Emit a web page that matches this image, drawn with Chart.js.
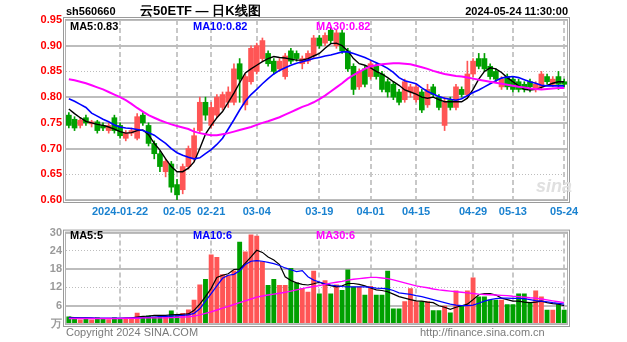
<!DOCTYPE html>
<html>
<head>
<meta charset="utf-8">
<script src="https://cdn.jsdelivr.net/npm/chart.js@4.4.1/dist/chart.umd.min.js"></script>
<style>
  body { margin:0; background:#fff; width:627px; height:342px; overflow:hidden; position:relative;
         font-family:"Liberation Sans", Arial, sans-serif; }
  canvas { position:absolute; left:0; }
  .t { position:absolute; font-weight:bold; font-size:11px; line-height:12px; white-space:nowrap; }
  .s { position:absolute; font-size:11px; line-height:12px; white-space:nowrap; color:#7a7a7a; }
</style>
</head>
<body>
<canvas id="kline" width="627" height="222" style="top:0"></canvas>
<canvas id="vol" width="627" height="120" style="top:222px"></canvas>

<div class="t" style="left:66px;top:5px;color:#000">sh560660</div>
<div class="t" style="left:140px;top:4px;color:#000;font-size:13px;line-height:14px">云50ETF — 日K线图</div>
<div class="t" style="right:59px;top:5px;color:#000">2024-05-24 11:30:00</div>

<div class="t" style="left:70px;top:20px;color:#000">MA5:0.83</div>
<div class="t" style="left:193px;top:20px;color:#0000ff">MA10:0.82</div>
<div class="t" style="left:316px;top:20px;color:#ff00ff">MA30:0.82</div>

<div class="t" style="left:70px;top:229px;color:#000">MA5:5</div>
<div class="t" style="left:193px;top:229px;color:#0000ff">MA10:6</div>
<div class="t" style="left:316px;top:229px;color:#ff00ff">MA30:6</div>

<div class="t" style="left:536px;top:176px;color:#e0e0e0;font-size:18px;line-height:20px;font-style:italic">sina</div>

<div class="s" style="left:66px;top:326px">Copyright 2024 SINA.COM</div>
<div class="s" style="left:420px;top:326px">http://finance.sina.com.cn</div>

<script>
// trading days shown on the daily chart
const dates = [
  '01-09','01-10','01-11','01-12','01-15','01-16','01-17','01-18','01-19','01-22',
  '01-23','01-24','01-25','01-26','01-29','01-30','01-31',
  '02-01','02-02','02-05','02-06','02-07','02-08','02-19','02-20','02-21','02-22',
  '02-23','02-26','02-27','02-28','02-29',
  '03-01','03-04','03-05','03-06','03-07','03-08','03-11','03-12','03-13','03-14',
  '03-15','03-18','03-19','03-20','03-21','03-22','03-25','03-26','03-27','03-28','03-29',
  '04-01','04-02','04-03','04-08','04-09','04-10','04-11','04-12','04-15','04-16',
  '04-17','04-18','04-19','04-22','04-23','04-24','04-25','04-26','04-29','04-30',
  '05-06','05-07','05-08','05-09','05-10','05-13','05-14','05-15','05-16','05-17',
  '05-20','05-21','05-22','05-23','05-24'
];

// dates that carry an axis label, and the label drawn for each
const tickDates  = ['01-22','02-05','02-21','03-04','03-19','04-01','04-15','04-29','05-13','05-24'];
const tickLabels = ['2024-01-22','02-05','02-21','03-04','03-19','04-01','04-15','04-29','05-13','05-24'];

const open = [
  .765,.757,.745,.760,.748,.752,.745,.735,.760,.745,.720,.730,.720,.765,.745,.710,.690,
  .655,.670,.630,.620,.665,.680,.735,.790,.745,.765,.780,.790,.790,.865,.785,
  .830,.850,.875,.885,.870,.855,.840,.890,.885,.865,.870,.880,.915,.905,.930,.900,.925,.890,.860,.820,.855,
  .840,.860,.845,.830,.825,.810,.795,.810,.795,.810,.785,.820,.800,.745,.795,.780,.815,.805,.845,.875,
  .875,.860,.850,.820,.840,.835,.830,.825,.830,.815,.820,.840,.825,.840,.830
];
const high = [
  .770,.762,.760,.765,.755,.755,.750,.750,.765,.750,.735,.740,.768,.770,.750,.715,.695,
  .680,.675,.640,.670,.705,.740,.800,.800,.790,.805,.810,.820,.865,.875,.845,
  .900,.905,.915,.890,.875,.875,.885,.895,.890,.880,.890,.920,.920,.925,.935,.930,.930,.895,.865,.855,.860,
  .870,.865,.850,.835,.830,.815,.835,.825,.825,.815,.825,.825,.805,.800,.800,.825,.820,.870,.875,.885,
  .885,.865,.855,.840,.845,.840,.835,.830,.835,.830,.850,.845,.840,.850,.835
];
const low = [
  .740,.735,.740,.745,.742,.730,.735,.730,.730,.720,.715,.725,.717,.745,.705,.680,.655,
  .645,.615,.600,.612,.660,.675,.730,.755,.740,.760,.775,.780,.785,.790,.775,
  .825,.845,.870,.860,.845,.850,.835,.865,.870,.855,.865,.875,.895,.900,.905,.895,.885,.850,.805,.815,.820,
  .835,.835,.810,.800,.795,.785,.790,.800,.790,.770,.780,.800,.775,.735,.775,.775,.800,.800,.840,.855,
  .850,.835,.830,.815,.815,.810,.810,.810,.810,.810,.815,.825,.820,.815,.820
];
const close = [
  .745,.740,.755,.750,.752,.735,.740,.745,.735,.725,.730,.735,.762,.750,.710,.690,.665,
  .675,.625,.610,.665,.700,.725,.790,.765,.780,.800,.805,.810,.855,.835,.840,
  .895,.900,.910,.865,.850,.870,.880,.870,.875,.875,.885,.915,.900,.920,.910,.925,.890,.855,.815,.850,.825,
  .865,.840,.815,.810,.800,.790,.830,.820,.820,.775,.815,.805,.780,.790,.780,.820,.805,.845,.870,.860,
  .855,.840,.835,.835,.820,.815,.815,.815,.820,.825,.845,.830,.835,.825,.825
];

// moving averages of the close
const ma5 = [
  .777,.768,.760,.753,.750,.747,.745,.742,.738,.733,.730,.731,.735,.736,.727,.710,.697,
  .680,.665,.655,.655,.662,.674,.700,.728,.745,.760,.772,.790,.808,.828,.847,
  .855,.862,.869,.875,.879,.877,.876,.874,.872,.872,.875,.880,.885,.895,.904,.905,.900,.890,.875,.865,.862,
  .857,.850,.845,.838,.830,.823,.814,.810,.806,.800,.798,.800,.795,.791,.791,.791,.791,.798,.815,.835,
  .850,.857,.855,.848,.838,.830,.822,.815,.814,.815,.819,.823,.827,.830,.830
];
const ma10 = [
  .797,.792,.786,.780,.769,.763,.757,.752,.746,.742,.740,.739,.737,.735,.731,.726,.718,
  .710,.700,.692,.687,.683,.680,.682,.690,.698,.708,.720,.738,.756,.775,.792,
  .805,.815,.826,.836,.845,.852,.857,.862,.866,.869,.872,.875,.877,.880,.882,.885,.888,.888,.885,.881,.877,
  .872,.867,.862,.856,.848,.838,.832,.829,.826,.818,.811,.806,.801,.798,.796,.794,.797,.803,.809,.814,
  .820,.826,.832,.837,.839,.840,.838,.834,.830,.827,.823,.822,.822,.822,.822
];
const ma30 = [
  .835,.833,.830,.827,.823,.819,.815,.810,.805,.800,.794,.787,.779,.772,.765,.760,.755,
  .751,.747,.744,.741,.738,.733,.730,.728,.726,.726,.728,.730,.733,.736,.739,
  .742,.746,.750,.753,.757,.761,.766,.771,.776,.781,.785,.790,.796,.803,.811,.819,.827,.836,.843,.849,.855,
  .860,.862,.864,.865,.866,.866,.865,.864,.861,.858,.855,.851,.848,.845,.843,.841,.840,.838,.836,.834,
  .832,.830,.828,.826,.824,.822,.820,.819,.817,.816,.815,.816,.817,.818,.818
];

// traded volume and its moving averages
const volume = [
  2.5,2.0,1.5,2.0,1.5,2.2,1.8,1.6,2.2,1.8,2.0,1.9,3.7,2.5,2.8,2.4,2.6,
  2.5,4.4,3.2,3.6,4.8,8.0,13.0,14.8,22.8,22.0,16.3,16.0,17.6,27.0,23.8,
  29.4,29.0,20.6,12.8,14.8,12.8,12.8,18.4,13.6,11.7,10.6,17.5,10.0,14.4,10.0,13.0,11.2,17.9,12.2,12.2,9.6,
  12.5,9.6,9.6,17.5,5.1,5.1,7.5,11.7,7.5,7.5,7.5,4.5,4.5,6.0,3.8,11.0,6.0,11.0,15.3,9.0,
  9.0,8.0,8.0,8.0,6.5,6.5,10.0,10.0,7.0,11.0,9.0,4.7,4.7,6.5,4.7
];
const volMa5 = [
  2.2,2.1,2.0,2.0,1.9,1.8,1.8,1.8,1.8,1.8,1.9,2.0,2.3,2.5,2.6,2.8,2.8,
  2.8,3.0,3.1,3.2,3.3,4.5,6.5,9.0,11.7,15.3,16.0,16.5,17.9,18.0,20.0,
  22.0,24.2,23.5,22.0,21.0,19.5,15.5,14.3,13.5,13.0,12.8,13.2,13.7,13.0,12.6,12.2,12.5,13.3,13.3,13.0,12.5,
  11.8,11.2,11.0,10.6,9.8,9.0,8.5,8.0,7.6,7.5,7.2,7.0,6.0,5.5,4.8,5.5,6.0,6.5,8.0,9.6,
  10.0,10.0,9.5,8.5,8.0,7.5,7.5,7.2,7.0,7.2,7.5,7.0,6.7,6.5,6.0
];
const volMa10 = [
  2.0,2.0,2.0,2.0,2.0,1.9,1.9,1.9,1.9,1.9,1.9,2.0,2.0,2.1,2.2,2.3,2.4,
  2.5,2.6,2.7,2.8,3.0,3.5,5.0,7.5,10.0,12.5,15.0,16.0,16.3,17.5,19.5,
  20.6,20.8,20.6,20.2,19.8,19.2,18.4,17.8,17.2,17.5,15.5,14.4,13.8,13.2,12.8,12.5,12.3,12.2,12.2,12.2,12.2,
  12.0,11.8,11.7,11.5,11.0,10.2,10.0,9.7,9.3,9.0,8.5,8.0,7.5,7.0,6.5,6.2,6.0,6.0,6.2,6.8,
  7.5,8.0,8.3,8.5,8.5,8.4,8.4,8.3,8.0,7.7,7.5,7.3,7.0,6.8,6.5
];
const volMa30 = [
  1.8,1.8,1.8,1.8,1.8,1.8,1.8,1.8,1.8,1.8,1.9,1.9,1.9,2.0,2.0,2.0,2.0,
  2.0,2.1,2.2,2.3,2.4,2.6,3.0,3.5,4.0,4.6,5.2,5.8,6.4,7.0,7.6,
  8.2,8.8,9.2,9.5,9.8,10.1,10.4,10.8,11.2,11.6,12.0,12.3,12.6,13.0,13.4,13.7,14.0,14.4,14.7,14.9,15.1,
  15.3,15.3,15.1,14.9,14.5,14.0,13.5,13.0,12.5,12.2,11.9,11.5,11.2,11.0,10.8,10.6,10.4,10.2,10.0,9.8,
  9.7,9.6,9.5,9.4,9.3,9.1,9.0,8.8,8.6,8.5,8.2,7.9,7.6,7.3,7.0
];

// price axis range and volume axis range
const priceTicks = [0.60, 0.65, 0.70, 0.75, 0.80, 0.85, 0.90, 0.95];
const volumeTicks = [0, 6, 12, 18, 24, 30];

const UP = '#ff5555', DOWN = '#00a000';
const FONT = '"Liberation Sans", Arial, sans-serif';
const isUp = i => close[i] >= open[i];
const candleColor = c => isUp(c.dataIndex) ? UP : DOWN;
const tickIndex = dates.map(d => tickDates.indexOf(d));

// thin outer frame around each plot area
const frame = {
  id: 'frame',
  afterDraw(ch) {
    const a = ch.chartArea, g = ch.ctx;
    g.save();
    g.strokeStyle = '#9a9a9a';
    g.lineWidth = 1;
    g.strokeRect(a.left - 2.5, a.top - 2.5, a.right - a.left + 5, a.bottom - a.top + 5);
    g.strokeStyle = '#b0b0b0';
    g.strokeRect(a.left - 0.5, a.top - 0.5, a.right - a.left + 1, a.bottom - a.top + 1);
    g.restore();
  }
};

function xScale(showLabels) {
  return {
    type: 'category',
    offset: true,
    grid: {
      offset: false,
      drawTicks: false,
      lineWidth: 2,
      color: c => tickIndex[c.index] >= 0 ? '#c8c8c8' : 'rgba(0,0,0,0)'
    },
    border: { display: false, dash: [5, 3] },
    ticks: {
      display: showLabels,
      autoSkip: false,
      maxRotation: 0,
      minRotation: 0,
      padding: 5,
      color: '#1a82d0',
      font: { family: FONT, size: 11, weight: 'bold' },
      callback: (v, i) => tickIndex[i] >= 0 ? tickLabels[tickIndex[i]] : ''
    },
    afterFit: s => { s.height = showLabels ? 22 : 0; }
  };
}

const commonLine = { type: 'line', pointRadius: 0, tension: 0, fill: false, order: 0 };

new Chart(document.getElementById('kline'), {
  type: 'bar',
  data: {
    labels: dates,
    datasets: [
      { ...commonLine, data: ma30, borderColor: '#ff00ff', borderWidth: 2 },
      { ...commonLine, data: ma10, borderColor: '#0000ff', borderWidth: 1.6 },
      { ...commonLine, data: ma5,  borderColor: '#000000', borderWidth: 1.4 },
      { data: dates.map((d, i) => [Math.min(open[i], close[i]), Math.max(open[i], close[i])]),
        backgroundColor: candleColor, barThickness: 5, minBarLength: 1, grouped: false, order: 1 },
      { data: dates.map((d, i) => [low[i], high[i]]),
        backgroundColor: candleColor, barThickness: 1, grouped: false, order: 2 }
    ]
  },
  options: {
    responsive: false, animation: false, devicePixelRatio: 1,
    layout: { padding: { top: 20, right: 60, left: 0, bottom: 0 } },
    plugins: { legend: { display: false }, tooltip: { enabled: false } },
    scales: {
      x: xScale(true),
      y: {
        min: priceTicks[0], max: priceTicks[priceTicks.length - 1],
        afterBuildTicks: s => { s.ticks = priceTicks.map(v => ({ value: v })); },
        ticks: { padding: 4, color: '#ff0000', font: { family: FONT, size: 11, weight: 'bold' },
                 callback: v => v.toFixed(2) },
        grid: { drawTicks: false, color: '#bdbdbd',
                lineWidth: c => (c.tick && (Math.abs(c.tick.value - 0.85) < 1e-6 || Math.abs(c.tick.value - 0.65) < 1e-6)) ? 1 : 2 },
        border: { display: false,
                  dash: c => (c.tick && (Math.abs(c.tick.value - 0.85) < 1e-6 || Math.abs(c.tick.value - 0.65) < 1e-6)) ? [1, 2] : [] },
        afterFit: s => { s.width = 66; }
      }
    }
  },
  plugins: [frame]
});

new Chart(document.getElementById('vol'), {
  type: 'bar',
  data: {
    labels: dates,
    datasets: [
      { ...commonLine, data: volMa30, borderColor: '#ff00ff', borderWidth: 1.4 },
      { ...commonLine, data: volMa10, borderColor: '#0000ff', borderWidth: 1.2 },
      { ...commonLine, data: volMa5,  borderColor: '#000000', borderWidth: 1.2 },
      { data: volume, backgroundColor: candleColor, barPercentage: 0.86, categoryPercentage: 1, order: 1 }
    ]
  },
  options: {
    responsive: false, animation: false, devicePixelRatio: 1,
    layout: { padding: { top: 6, right: 60, left: 0, bottom: 18 } },
    plugins: { legend: { display: false }, tooltip: { enabled: false } },
    scales: {
      x: xScale(false),
      y: {
        min: 0, max: 30,
        afterBuildTicks: s => { s.ticks = volumeTicks.map(v => ({ value: v })); },
        ticks: { padding: 4, color: '#9a9a9a', font: { family: FONT, size: 11, weight: 'bold' },
                 callback: v => v === 0 ? '万' : String(v) },
        grid: { drawTicks: false, color: '#bdbdbd',
                lineWidth: c => (c.tick && (c.tick.value === 24 || c.tick.value === 12)) ? 1 : 2 },
        border: { display: false,
                  dash: c => (c.tick && (c.tick.value === 24 || c.tick.value === 12)) ? [1, 2] : [] },
        afterFit: s => { s.width = 66; }
      }
    }
  },
  plugins: [frame]
});
</script>
</body>
</html>
